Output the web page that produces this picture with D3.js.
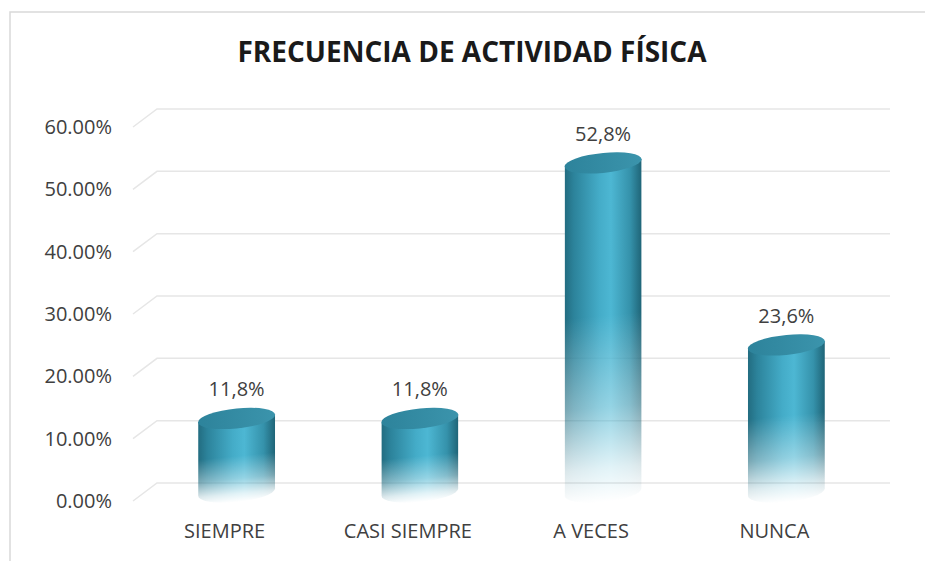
<!DOCTYPE html>
<html>
<head>
<meta charset="utf-8">
<script src="https://cdn.jsdelivr.net/npm/d3@7"></script>
<style>
  body { margin: 0; background: #fff; }
  text { font-family: "Open Sans", "DejaVu Sans", sans-serif; }
</style>
</head>
<body>
<div id="chart"></div>
<script>
// data
var categories = ["SIEMPRE", "CASI SIEMPRE", "A VECES", "NUNCA"];
var values = [0.118, 0.118, 0.528, 0.236];
var valueLabels = ["11,8%", "11,8%", "52,8%", "23,6%"];
var yTicks = [0, 0.1, 0.2, 0.3, 0.4, 0.5, 0.6];

var svgWidth = 925;
var svgHeight = 561;

// back wall of the 3d plot and the depth offset to the front edge
var back = { left: 157, right: 890, top: 109, bottom: 483 };
var depth = { dx: -24, dy: 18 };
var radius = 38.5;
var ry = 10;
var skew = -5.5;

var svg = d3.select("#chart")
  .append("svg")
  .attr("width", svgWidth)
  .attr("height", svgHeight);

var defs = svg.append("defs");

// side shading of the cylinders
var side = defs.append("linearGradient").attr("id", "side");
side.selectAll("stop")
  .data([[0, "#226c80"], [0.12, "#2c839b"], [0.45, "#44acc8"], [0.6, "#4db7d3"], [0.85, "#3592ab"], [1, "#1f6477"]])
  .enter().append("stop")
  .attr("offset", d => d[0])
  .attr("stop-color", d => d[1]);

var topGrad = defs.append("linearGradient").attr("id", "topface");
topGrad.append("stop").attr("offset", 0).attr("stop-color", "#2d839b");
topGrad.append("stop").attr("offset", 1).attr("stop-color", "#3b94ac");

// fade the lower half of each cylinder to white
var fade = defs.append("linearGradient").attr("id", "fadeGrad")
  .attr("x1", 0).attr("y1", 0).attr("x2", 0).attr("y2", 1);
fade.selectAll("stop")
  .data([[0, "#fff"], [0.45, "#fff"], [0.72, "#999"], [0.9, "#2a2a2a"], [1, "#000"]])
  .enter().append("stop")
  .attr("offset", d => d[0])
  .attr("stop-color", d => d[1]);

defs.append("mask")
  .attr("id", "fade")
  .attr("maskContentUnits", "objectBoundingBox")
  .append("rect")
  .attr("width", 1).attr("height", 1)
  .attr("fill", "url(#fadeGrad)");

// chart frame
svg.append("path")
  .attr("d", `M10,${svgHeight} L10,12 L${svgWidth},12`)
  .attr("fill", "none")
  .attr("stroke", "#d9d9d9")
  .attr("stroke-width", 1.5);

var yScale = d3.scaleLinear()
  .domain([0, 0.6])
  .range([back.bottom, back.top]);

var xScale = d3.scaleBand()
  .domain(categories)
  .range([back.left, back.right]);

// front scale for the category labels
var xFront = d3.scaleBand()
  .domain(categories)
  .range([back.left + depth.dx, back.right + depth.dx]);

// gridlines with the little slanted floor edge on the left
svg.append("g")
  .selectAll("path")
  .data(yTicks)
  .enter()
  .append("path")
  .attr("d", d => `M${back.left + depth.dx},${yScale(d) + depth.dy} L${back.left},${yScale(d)} L${back.right},${yScale(d)}`)
  .attr("fill", "none")
  .attr("stroke", "#e6e6e6")
  .attr("stroke-width", 1.5);

// y axis
var leftAxis = d3.axisLeft(yScale)
  .tickValues(yTicks)
  .tickFormat(d3.format(".2%"))
  .tickSize(0)
  .tickPadding(21);

var yAxis = svg.append("g")
  .attr("transform", `translate(${back.left + depth.dx}, ${depth.dy})`)
  .call(leftAxis);
yAxis.select(".domain").remove();
yAxis.selectAll("text")
  .attr("font-family", null)
  .attr("font-size", 20)
  .attr("fill", "#404040");

// x axis
var bottomAxis = d3.axisBottom(xFront)
  .tickSize(0)
  .tickPadding(23);

var xAxis = svg.append("g")
  .attr("transform", `translate(0, ${back.bottom + depth.dy})`)
  .call(bottomAxis);
xAxis.select(".domain").remove();
xAxis.selectAll("text")
  .attr("font-family", null)
  .attr("font-size", 20)
  .attr("fill", "#404040");

// cylinders
var cx = d => xScale(d) + xScale.bandwidth() / 2 + depth.dx / 2;
var bottomY = yScale(0) + depth.dy / 2;

var cyl = svg.append("g")
  .selectAll("g")
  .data(categories)
  .enter()
  .append("g")
  .attr("transform", d => `translate(${cx(d)}, 0) skewY(${skew})`);

cyl.append("path")
  .attr("d", (d, i) => {
    var top = yScale(values[i]) + depth.dy / 2;
    return `M${-radius},${top} L${-radius},${bottomY} A${radius},${ry} 0 0 0 ${radius},${bottomY} L${radius},${top} Z`;
  })
  .attr("fill", "url(#side)")
  .attr("mask", "url(#fade)");

cyl.append("ellipse")
  .attr("cx", 0)
  .attr("cy", (d, i) => yScale(values[i]) + depth.dy / 2)
  .attr("rx", radius)
  .attr("ry", ry)
  .attr("fill", "url(#topface)");

// value labels
svg.append("g")
  .selectAll("text")
  .data(categories)
  .enter()
  .append("text")
  .attr("x", d => cx(d))
  .attr("y", (d, i) => yScale(values[i]) + depth.dy / 2 - 22)
  .attr("text-anchor", "middle")
  .attr("font-size", 20)
  .attr("fill", "#404040")
  .text((d, i) => valueLabels[i]);

// title
svg.append("text")
  .attr("x", 472)
  .attr("y", 62)
  .attr("text-anchor", "middle")
  .attr("font-size", 28)
  .attr("font-weight", "bold")
  .attr("fill", "#1a1a1a")
  .text("FRECUENCIA DE ACTIVIDAD FÍSICA");
</script>
</body>
</html>
